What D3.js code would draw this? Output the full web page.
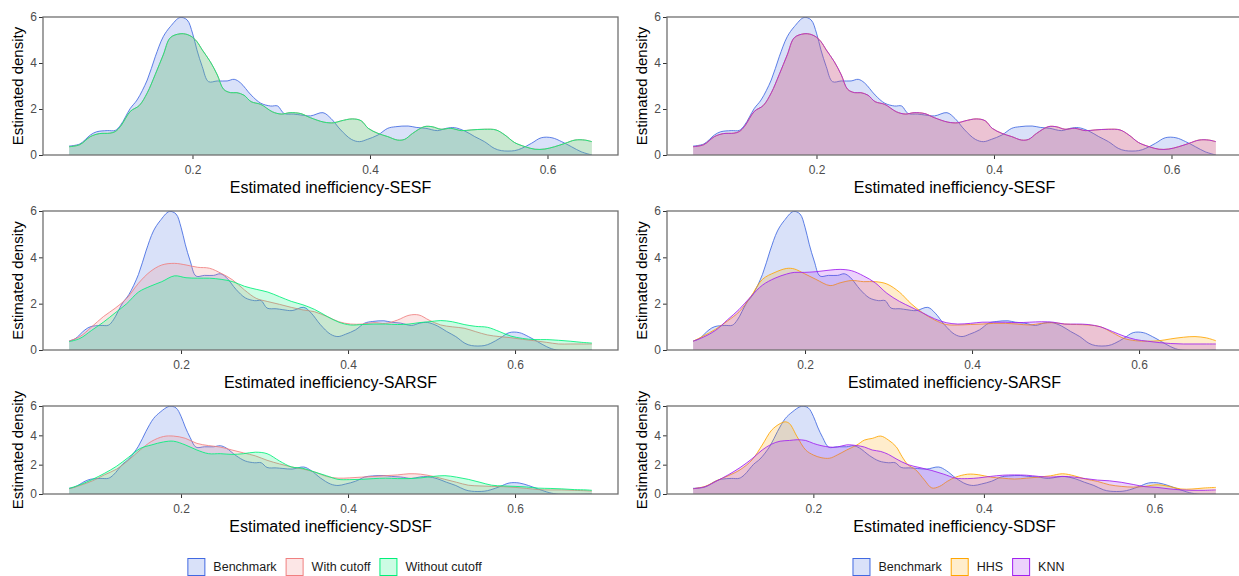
<!DOCTYPE html>
<html lang="en">
  <head>
    <meta charset="utf-8">
    <script type="text/javascript" src="https://d3js.org/d3.v7.min.js"></script>
    <style>
      body { margin: 0; background: white; }
      svg text { font-family: "Liberation Sans", Arial, sans-serif; }
    </style>
  </head>
  <body>
    <script type="text/javascript">

    // Data range (min, max) of the estimates in each panel
    var rangeSESF = [0.061, 0.65];
    var rangeSARSF = [0.066, 0.692];
    var rangeSDSF = [0.066, 0.692];
    var rangeSDSFImp = [0.059, 0.672];

    var xTicks = [0.2, 0.4, 0.6];
    var yTicks = [0, 2, 4, 6];

    // True inefficiency density (same in every panel)
    var benchmark = [[0.061,0.39],[0.073,0.48],[0.085,0.87],[0.092,1.01],[0.104,1.06],[0.113,1.07],[0.119,1.3],
      [0.13,2.03],[0.1375,2.39],[0.149,3.26],[0.158,4.27],[0.167,5.14],[0.175,5.58],[0.186,5.98],[0.194,5.87],
      [0.2,5.3],[0.205,4.57],[0.211,3.84],[0.218,3.19],[0.228,3.22],[0.239,3.22],[0.247,3.29],[0.254,3.14],
      [0.266,2.61],[0.277,2.25],[0.288,2.13],[0.296,2.13],[0.303,1.81],[0.314,1.78],[0.322,1.74],[0.333,1.7],
      [0.347,1.84],[0.356,1.59],[0.367,1.09],[0.379,0.68],[0.388,0.58],[0.397,0.68],[0.409,0.87],[0.42,1.16],
      [0.429,1.23],[0.443,1.26],[0.452,1.2],[0.463,1.16],[0.476,1.06],[0.486,1.16],[0.495,1.19],[0.507,1.04],
      [0.518,0.8],[0.529,0.58],[0.54,0.29],[0.548,0.19],[0.563,0.19],[0.571,0.29],[0.582,0.51],[0.593,0.75],
      [0.605,0.75],[0.616,0.58],[0.627,0.36],[0.638,0.14],[0.65,0]];

    // SESF: all four imputed estimates give the same curve
    var sesfImputed = [[0.061,0.36],[0.073,0.45],[0.085,0.8],[0.095,0.93],[0.107,0.95],[0.113,1.02],[0.119,1.25],
      [0.13,1.9],[0.14,2.15],[0.149,2.7],[0.158,3.5],[0.167,4.35],[0.175,5.1],[0.186,5.27],[0.194,5.24],
      [0.2,5.12],[0.205,4.93],[0.211,4.57],[0.22,4.06],[0.228,3.48],[0.235,2.86],[0.243,2.71],[0.25,2.71],
      [0.258,2.6],[0.266,2.32],[0.277,2.2],[0.29,1.88],[0.3,1.78],[0.31,1.84],[0.322,1.8],[0.333,1.62],
      [0.348,1.43],[0.359,1.4],[0.367,1.48],[0.38,1.57],[0.39,1.49],[0.398,1.16],[0.409,0.94],[0.42,0.8],
      [0.431,0.65],[0.439,0.68],[0.448,0.94],[0.461,1.23],[0.47,1.23],[0.48,1.12],[0.491,1.16],[0.503,1.06],
      [0.514,1.09],[0.529,1.12],[0.542,1.09],[0.552,0.87],[0.563,0.54],[0.575,0.36],[0.586,0.25],[0.597,0.26],
      [0.608,0.36],[0.62,0.51],[0.631,0.65],[0.642,0.65],[0.65,0.58]];
    var sesfCutoff = sesfImputed;
    var sesfNoCutoff = sesfImputed;
    var sesfHHS = sesfImputed;
    var sesfKNN = sesfImputed;

    var sarsfCutoff = [[0.066,0.39],[0.079,0.58],[0.093,1.0],[0.107,1.44],[0.121,1.8],[0.135,2.23],[0.149,2.88],
      [0.163,3.38],[0.177,3.67],[0.192,3.74],[0.206,3.67],[0.22,3.57],[0.234,3.53],[0.248,3.31],[0.262,3.02],
      [0.276,2.59],[0.29,2.23],[0.304,2.09],[0.318,1.97],[0.332,1.84],[0.346,1.73],[0.36,1.65],[0.375,1.44],
      [0.389,1.22],[0.403,1.12],[0.417,1.12],[0.431,1.18],[0.445,1.15],[0.459,1.29],[0.473,1.5],[0.485,1.51],
      [0.497,1.29],[0.511,1.08],[0.525,1.0],[0.539,0.94],[0.553,0.79],[0.567,0.65],[0.581,0.58],[0.595,0.53],
      [0.609,0.46],[0.623,0.4],[0.638,0.33],[0.652,0.26],[0.666,0.26],[0.68,0.26],[0.692,0.26]];
    var sarsfNoCutoff = [[0.066,0.36],[0.079,0.5],[0.093,0.85],[0.107,1.2],[0.121,1.6],[0.135,2.0],[0.149,2.5],
      [0.163,2.75],[0.177,2.95],[0.192,3.2],[0.206,3.12],[0.22,3.1],[0.234,3.1],[0.248,3.05],[0.262,2.95],
      [0.276,2.75],[0.29,2.62],[0.304,2.5],[0.318,2.3],[0.332,2.1],[0.346,1.95],[0.36,1.75],[0.375,1.45],
      [0.389,1.2],[0.403,1.08],[0.417,1.1],[0.431,1.12],[0.445,1.12],[0.459,1.1],[0.473,1.12],[0.485,1.18],
      [0.497,1.22],[0.511,1.27],[0.525,1.22],[0.539,1.1],[0.553,1.02],[0.567,0.98],[0.581,0.8],[0.595,0.6],
      [0.609,0.5],[0.623,0.45],[0.638,0.45],[0.652,0.42],[0.666,0.38],[0.68,0.33],[0.692,0.3]];
    var sarsfHHS = [[0.066,0.38],[0.078,0.6],[0.093,0.9],[0.107,1.25],[0.121,1.65],[0.135,2.3],[0.149,3.05],
      [0.164,3.35],[0.178,3.52],[0.187,3.5],[0.199,3.3],[0.213,3.05],[0.23,2.78],[0.242,2.9],[0.256,3.0],
      [0.27,2.95],[0.284,2.95],[0.298,2.85],[0.313,2.5],[0.327,2.0],[0.341,1.6],[0.355,1.3],[0.369,1.1],
      [0.383,1.08],[0.398,1.1],[0.412,1.12],[0.426,1.15],[0.44,1.15],[0.454,1.12],[0.469,1.08],[0.483,1.15],
      [0.497,1.18],[0.511,1.12],[0.525,1.1],[0.539,1.08],[0.554,1.0],[0.568,0.75],[0.582,0.5],[0.596,0.4],
      [0.61,0.38],[0.624,0.4],[0.638,0.48],[0.653,0.55],[0.667,0.58],[0.681,0.52],[0.692,0.4]];
    var sarsfKNN = [[0.066,0.38],[0.078,0.55],[0.093,0.85],[0.107,1.3],[0.121,1.75],[0.135,2.3],[0.149,2.8],
      [0.164,3.1],[0.178,3.28],[0.187,3.35],[0.199,3.35],[0.213,3.38],[0.23,3.45],[0.242,3.48],[0.256,3.42],
      [0.27,3.2],[0.284,2.9],[0.298,2.45],[0.313,2.1],[0.327,1.85],[0.341,1.6],[0.355,1.35],[0.369,1.18],
      [0.383,1.12],[0.398,1.15],[0.412,1.2],[0.426,1.2],[0.44,1.2],[0.454,1.18],[0.469,1.2],[0.483,1.22],
      [0.497,1.2],[0.511,1.12],[0.525,1.12],[0.539,1.1],[0.554,1.0],[0.568,0.8],[0.582,0.6],[0.596,0.45],
      [0.61,0.38],[0.624,0.32],[0.638,0.28],[0.653,0.26],[0.667,0.26],[0.681,0.26],[0.692,0.26]];

    var sdsfCutoff = [[0.066,0.35],[0.08,0.6],[0.094,0.9],[0.108,1.3],[0.123,1.7],[0.137,2.3],[0.151,3.0],
      [0.165,3.6],[0.179,3.92],[0.191,3.95],[0.205,3.8],[0.219,3.45],[0.233,3.3],[0.247,3.2],[0.261,3.0],
      [0.275,2.8],[0.289,2.6],[0.303,2.3],[0.318,2.05],[0.332,1.85],[0.346,1.7],[0.36,1.5],[0.374,1.2],
      [0.388,1.08],[0.402,1.1],[0.416,1.15],[0.431,1.2],[0.445,1.25],[0.459,1.3],[0.473,1.38],[0.487,1.35],
      [0.502,1.2],[0.516,1.0],[0.53,0.8],[0.544,0.6],[0.558,0.55],[0.572,0.52],[0.586,0.5],[0.6,0.45],
      [0.614,0.38],[0.628,0.3],[0.642,0.28],[0.656,0.28],[0.671,0.25],[0.685,0.22],[0.692,0.2]];
    var sdsfNoCutoff = [[0.066,0.38],[0.08,0.65],[0.094,1.0],[0.108,1.4],[0.123,1.9],[0.137,2.5],[0.151,3.1],
      [0.165,3.35],[0.179,3.55],[0.191,3.6],[0.205,3.35],[0.219,3.0],[0.233,2.75],[0.247,2.75],[0.261,2.7],
      [0.275,2.75],[0.289,2.85],[0.303,2.75],[0.318,2.25],[0.332,1.85],[0.346,1.75],[0.36,1.5],[0.374,1.25],
      [0.388,1.0],[0.402,0.98],[0.416,1.0],[0.431,1.05],[0.445,1.08],[0.459,1.05],[0.473,1.05],[0.487,1.1],
      [0.502,1.2],[0.516,1.25],[0.53,1.15],[0.544,1.0],[0.558,0.8],[0.572,0.6],[0.586,0.55],[0.6,0.52],
      [0.614,0.48],[0.628,0.4],[0.642,0.38],[0.656,0.35],[0.671,0.3],[0.685,0.28],[0.692,0.25]];
    var sdsfHHS = [[0.059,0.36],[0.073,0.52],[0.087,0.92],[0.1,1.24],[0.114,1.65],[0.128,2.32],[0.14,3.34],
      [0.151,4.35],[0.161,4.8],[0.167,4.92],[0.172,4.8],[0.181,3.9],[0.191,3.0],[0.2,2.66],[0.209,2.48],
      [0.219,2.44],[0.228,2.66],[0.239,3.0],[0.251,3.34],[0.26,3.68],[0.269,3.79],[0.279,3.95],[0.288,3.68],
      [0.297,3.23],[0.304,2.55],[0.311,1.99],[0.32,1.65],[0.33,0.97],[0.339,0.41],[0.348,0.52],[0.357,0.86],
      [0.367,1.15],[0.381,1.35],[0.394,1.31],[0.408,1.15],[0.422,1.08],[0.436,1.02],[0.45,1.08],[0.464,1.15],
      [0.478,1.24],[0.492,1.38],[0.506,1.24],[0.519,1.02],[0.533,0.86],[0.547,0.63],[0.561,0.52],[0.575,0.47],
      [0.589,0.52],[0.603,0.63],[0.617,0.52],[0.631,0.34],[0.644,0.34],[0.658,0.41],[0.672,0.45]];
    var sdsfKNN = [[0.059,0.36],[0.073,0.5],[0.087,0.9],[0.1,1.3],[0.114,1.8],[0.128,2.4],[0.14,3.0],
      [0.151,3.4],[0.161,3.6],[0.172,3.65],[0.181,3.7],[0.191,3.65],[0.2,3.45],[0.209,3.3],[0.219,3.2],
      [0.228,3.2],[0.239,3.35],[0.251,3.3],[0.26,3.2],[0.269,3.0],[0.279,2.9],[0.288,2.7],[0.297,2.4],
      [0.311,2.0],[0.325,1.8],[0.339,1.6],[0.353,1.35],[0.367,1.08],[0.381,1.05],[0.394,1.1],[0.408,1.2],
      [0.422,1.28],[0.436,1.3],[0.45,1.28],[0.464,1.2],[0.478,1.15],[0.492,1.2],[0.506,1.15],[0.519,1.05],
      [0.533,0.95],[0.547,0.9],[0.561,0.8],[0.575,0.65],[0.589,0.5],[0.603,0.45],[0.617,0.35],[0.631,0.28],
      [0.644,0.25],[0.658,0.25],[0.672,0.28]];

    var colors = {
      "Benchmark": "#4169e1",
      "With cutoff": "#f08080",
      "Without cutoff": "#00f07a",
      "HHS": "#ffa500",
      "KNN": "#a020f0"
    };

    // Layout of the 3 x 2 grid
    var svgW = 1239, svgH = 576;
    var colLeft = [43, 667];
    var rowTop = [17, 211, 406];
    var rowH = [138, 139, 88];
    var panelW = 575;

    var panels = [
      {col: 0, row: 0, title: "Estimated inefficiency-SESF", range: rangeSESF,
        series: [["Benchmark", benchmark], ["With cutoff", sesfCutoff], ["Without cutoff", sesfNoCutoff]]},
      {col: 1, row: 0, title: "Estimated inefficiency-SESF", range: rangeSESF,
        series: [["Benchmark", benchmark], ["HHS", sesfHHS], ["KNN", sesfKNN]]},
      {col: 0, row: 1, title: "Estimated inefficiency-SARSF", range: rangeSARSF,
        series: [["Benchmark", benchmark], ["With cutoff", sarsfCutoff], ["Without cutoff", sarsfNoCutoff]]},
      {col: 1, row: 1, title: "Estimated inefficiency-SARSF", range: rangeSARSF,
        series: [["Benchmark", benchmark], ["HHS", sarsfHHS], ["KNN", sarsfKNN]]},
      {col: 0, row: 2, title: "Estimated inefficiency-SDSF", range: rangeSDSF,
        series: [["Benchmark", benchmark], ["With cutoff", sdsfCutoff], ["Without cutoff", sdsfNoCutoff]]},
      {col: 1, row: 2, title: "Estimated inefficiency-SDSF", range: rangeSDSFImp,
        series: [["Benchmark", benchmark], ["HHS", sdsfHHS], ["KNN", sdsfKNN]]}
    ];

    var svg = d3.select("body")
                .append("svg")
                  .attr("width", svgW)
                  .attr("height", svgH);

    panels.forEach(drawPanel);
    drawLegend(["Benchmark", "With cutoff", "Without cutoff"], colLeft[0] + panelW / 2 + 4);
    drawLegend(["Benchmark", "HHS", "KNN"], colLeft[1] + panelW / 2 + 4);

    // Benchmark density is evaluated over the whole data range of the panel
    function fitToRange(values, range) {
      var pts = values.filter(function(d) { return d[0] > range[0] && d[0] <= range[1]; });
      pts.unshift([range[0], values[0][1]]);
      if (pts[pts.length - 1][0] < range[1]) {
        pts.push([range[1], 0]);
      }
      return pts;
    }

    function drawPanel(p) {
      var w = panelW;
      var h = rowH[p.row];
      var g = svg.append("g")
                  .attr("transform", "translate(" + colLeft[p.col] + "," + rowTop[p.row] + ")");

      // ggplot style 5% expansion of the x range
      var pad = 0.05 * (p.range[1] - p.range[0]);
      var xScale = d3.scaleLinear()
                      .domain([p.range[0] - pad, p.range[1] + pad])
                      .range([0, w]);
      var yScale = d3.scaleLinear()
                      .domain([0, 6])
                      .range([h, 0]);

      var curve = d3.curveCatmullRom.alpha(0.5);
      var area = d3.area()
                    .x(function(d) { return xScale(d[0]); })
                    .y0(h)
                    .y1(function(d) { return Math.min(h, yScale(d[1])); })
                    .curve(curve);
      var line = d3.line()
                    .x(function(d) { return xScale(d[0]); })
                    .y(function(d) { return yScale(d[1]); })
                    .curve(curve);

      var clipId = "clip" + p.col + p.row;
      g.append("clipPath")
        .attr("id", clipId)
        .append("rect")
          .attr("width", w)
          .attr("height", h);
      var plot = g.append("g").attr("clip-path", "url(#" + clipId + ")");

      p.series.forEach(function(s) {
        var pts = fitToRange(s[1], p.range);
        plot.append("path")
          .datum(pts)
          .attr("d", area)
          .attr("fill", colors[s[0]])
          .attr("fill-opacity", 0.2);
        plot.append("path")
          .datum(pts)
          .attr("d", line)
          .attr("fill", "none")
          .attr("stroke", colors[s[0]])
          .attr("stroke-width", 0.85);
      });

      // Axes
      var xAxis = g.append("g")
                    .attr("transform", "translate(0," + h + ")")
                    .call(d3.axisBottom(xScale)
                            .tickValues(xTicks)
                            .tickFormat(d3.format(".1f"))
                            .tickSize(4)
                            .tickPadding(6));
      var yAxis = g.append("g")
                    .call(d3.axisLeft(yScale)
                            .tickValues(yTicks)
                            .tickFormat(d3.format("d"))
                            .tickSize(4)
                            .tickPadding(2));
      [xAxis, yAxis].forEach(function(a) {
        a.select(".domain").remove();
        a.selectAll("line").attr("stroke", "#333333");
        a.selectAll("text")
          .attr("fill", "#4d4d4d")
          .style("font-size", "12px")
          .style("font-family", "'Liberation Sans', Arial, sans-serif");
      });

      // Panel border
      g.append("rect")
        .attr("width", w)
        .attr("height", h)
        .attr("fill", "none")
        .attr("stroke", "#707070")
        .attr("stroke-width", 1.3);

      // Axis titles
      g.append("text")
        .attr("x", w / 2)
        .attr("y", h + 32)
        .attr("dy", "0.35em")
        .style("text-anchor", "middle")
        .style("font-size", "16px")
        .attr("fill", "black")
        .text(p.title);
      g.append("text")
        .attr("transform", "rotate(-90)")
        .attr("x", -h / 2)
        .attr("y", -25)
        .attr("dy", "0.35em")
        .style("text-anchor", "middle")
        .style("font-size", "15px")
        .attr("fill", "black")
        .text("Estimated density");
    }

    function drawLegend(keys, centerX) {
      var legend = svg.append("g");
      var offset = 0;
      keys.forEach(function(k) {
        var item = legend.append("g").attr("transform", "translate(" + offset + ",0)");
        item.append("rect")
          .attr("x", 0.5)
          .attr("y", 558.5)
          .attr("width", 17)
          .attr("height", 17)
          .attr("fill", colors[k])
          .attr("fill-opacity", 0.2)
          .attr("stroke", colors[k])
          .attr("stroke-width", 1);
        var label = item.append("text")
          .attr("x", 26)
          .attr("y", 567)
          .attr("dy", "0.35em")
          .style("font-size", "12.5px")
          .attr("fill", "#1a1a1a")
          .text(k);
        offset += 26 + label.node().getComputedTextLength() + 9;
      });
      var total = offset - 9;
      legend.attr("transform", "translate(" + (centerX - total / 2) + ",0)");
    }
    </script>
  </body>
</html>
